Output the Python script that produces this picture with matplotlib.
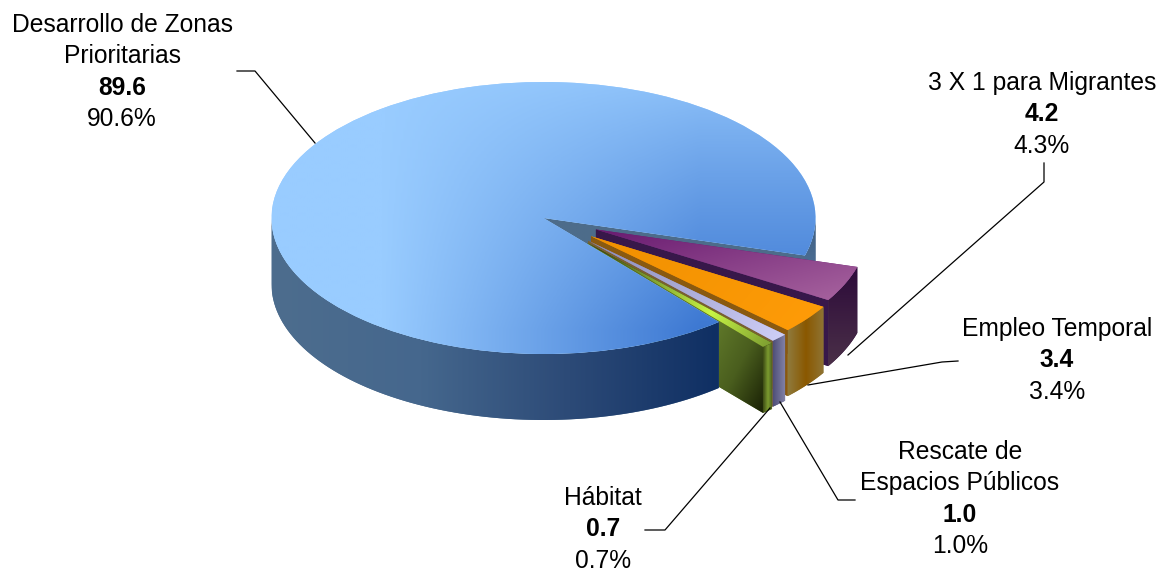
import numpy as np
import matplotlib
matplotlib.use('Agg')
import matplotlib.pyplot as plt
from matplotlib.colors import LinearSegmentedColormap
from matplotlib.patches import Polygon

plt.rcParams['font.family'] = ['Liberation Sans', 'DejaVu Sans']

# values, clockwise from the right of the pie
names = ['3 X 1 para Migrantes', 'Empleo Temporal', 'Rescate de\nEspacios Públicos', 'Hábitat',
         'Desarrollo de Zonas\nPrioritarias']
values = [4.2, 3.4, 1.0, 0.7, 89.6]
value_labels = ['4.2', '3.4', '1.0', '0.7', '89.6']
percent_labels = ['4.3%', '3.4%', '1.0%', '0.7%', '90.6%']
explode = [0.21, 0.22, 0.235, 0.245, 0]

W, H = 1159, 571
CX, CY, RX, RY, DEPTH = 543.5, 218, 272, 136, 66
d = DEPTH / RY

fig = plt.figure(figsize=(W / 100, H / 100), dpi=100)
ax = fig.add_axes([0, 0, 1, 1])
wedges, _ = ax.pie(values, explode=explode, startangle=-16, counterclock=False,
                   wedgeprops={'linewidth': 0})
ax.set_aspect('auto')
ax.set_xlim(-CX / RX, (W - CX) / RX)
ax.set_ylim((CY - H) / RY, CY / RY)
ax.axis('off')


def shade(patch, stops, angle, z, fade=None):
    """Fill a patch with a linear gradient, angle in degrees in pixel space (0 = left to right)"""
    patch.set_zorder(z)
    if patch.axes is None:
        ax.add_patch(patch)
    patch.set_facecolor(stops[0])
    patch.set_edgecolor('none')
    if isinstance(patch, Polygon):
        bb = patch.get_path().get_extents()
    else:
        bb = patch.get_path().transformed(patch.get_patch_transform()).get_extents()
    xs = np.linspace(bb.x0, bb.x1, 200)
    ys = np.linspace(bb.y1, bb.y0, 200)
    gx, gy = np.meshgrid((xs - bb.x0) * RX, (bb.y1 - ys) * RY)
    a = np.radians(angle)
    t = gx * np.cos(a) + gy * np.sin(a)
    t = (t - t.min()) / max(t.max() - t.min(), 1e-6)
    if fade is not None:
        gx, gy = np.meshgrid(xs, ys)
        t = fade(gx * RX + CX, CY - gy * RY)
    cmap = LinearSegmentedColormap.from_list('g', stops)
    im = ax.imshow(t, extent=(bb.x0, bb.x1, bb.y0, bb.y1), cmap=cmap, vmin=0, vmax=1,
                   aspect='auto', zorder=z, interpolation='bilinear')
    im.set_clip_path(patch)


def arc(w, t1, t2, n=80):
    th = np.radians(np.linspace(t1, t2, n))
    return w.center[0] + np.cos(th), w.center[1] + np.sin(th)


def rim(w, t1, t2):
    x, y = arc(w, t1, t2)
    pts = np.r_[np.c_[x, y], np.c_[x[::-1], y[::-1] - d]]
    return Polygon(pts, closed=True)


def side(w, t):
    x, y = arc(w, t, t, 1)
    c = w.center
    return Polygon([c, (x[0], y[0]), (x[0], y[0] - d), (c[0], c[1] - d)], closed=True)


main = wedges[4]
mig, emp, res, hab = wedges[:4]

# back part of the big slice, seen through the gap
shade(rim(main, main.theta1, -360), ['#3f5f82', '#5a7da6'], 90, 2)
shade(side(main, main.theta1), ['#4d6c8a', '#4d6c8a'], 0, 3)

# pulled out slices, back to front
shade(side(mig, mig.theta1), ['#38184a', '#38184a'], 0, 4)
shade(rim(mig, mig.theta1, mig.theta2), ['#2c0a3a', '#4b3048'], 90, 5)
shade(mig, ['#681a70', '#a8649f'], 75, 6)

shade(side(emp, emp.theta1), ['#8a5a10', '#8a5a10'], 0, 7)
shade(rim(emp, emp.theta1, emp.theta2), ['#8f7a3c', '#8a5800', '#8f7434'], 0, 8)
shade(emp, ['#f09000', '#ff9c08'], 40, 9)

shade(side(res, res.theta1), ['#7a6030', '#7a6030'], 0, 10)
shade(rim(res, res.theta1, res.theta2), ['#4f4f78', '#8585aa'], 0, 11)
shade(res, ['#8a8ab8', '#cfcff8'], 30, 12)


def hab_wall(px, py):
    return np.clip(((px - 716) / 46 + (py - 322) / 87) / 2, 0, 1)


shade(side(hab, hab.theta1), ['#60792a', '#4a5e1e', '#1c2406'], 0, 13, fade=hab_wall)
shade(rim(hab, hab.theta1, hab.theta2), ['#3c4a14', '#7c9c30', '#46561a'], 0, 14)
shade(hab, ['#2e3a08', '#7f9e30', '#c8f545', '#7a9a30'], 30, 15)

# big slice, wall first then top
shade(rim(main, -180, main.theta2), ['#4d6d8e', '#45678d', '#2c4a77', '#0f2f63'], 0, 16)


def main_top(px, py):
    return np.clip((px - 380) / 320, 0, 1) * np.clip((py - 60) / 270, 0, 1) ** 0.8


shade(main, ['#99ccff', '#3d78d2'], 0, 17, fade=main_top)

# labels live in pixel space
over = fig.add_axes([0, 0, 1, 1])
over.set_xlim(0, W)
over.set_ylim(H, 0)
over.axis('off')
over.patch.set_alpha(0)

leaders = [
    ([1044, 1044, 848], [163, 182, 355]),
    ([958, 942, 808], [361, 362, 385]),
    ([855, 838, 780], [500, 500, 402]),
    ([645, 665, 770], [530, 530, 408]),
    ([237, 255, 315], [71, 71, 143]),
]
for lx, ly in leaders:
    over.plot(lx, ly, color='black', lw=0.9)

label_x = [1042, 1057, 960, 603, 122]
label_y = [83, 329, 452, 498, 25]
LINE = 31.3
for name, val, pct, x, y in zip(names, value_labels, percent_labels, label_x, label_y):
    lines = name.split('\n')
    for i, line in enumerate(lines):
        over.text(x, y + i * LINE, line, ha='center', va='center', fontsize=17.7)
    n = len(lines)
    over.text(x, y + n * LINE, val, ha='center', va='center', fontsize=17.7, fontweight='bold')
    over.text(x, y + (n + 1) * LINE, pct, ha='center', va='center', fontsize=17.7)

fig.savefig('out.png', dpi=100)
